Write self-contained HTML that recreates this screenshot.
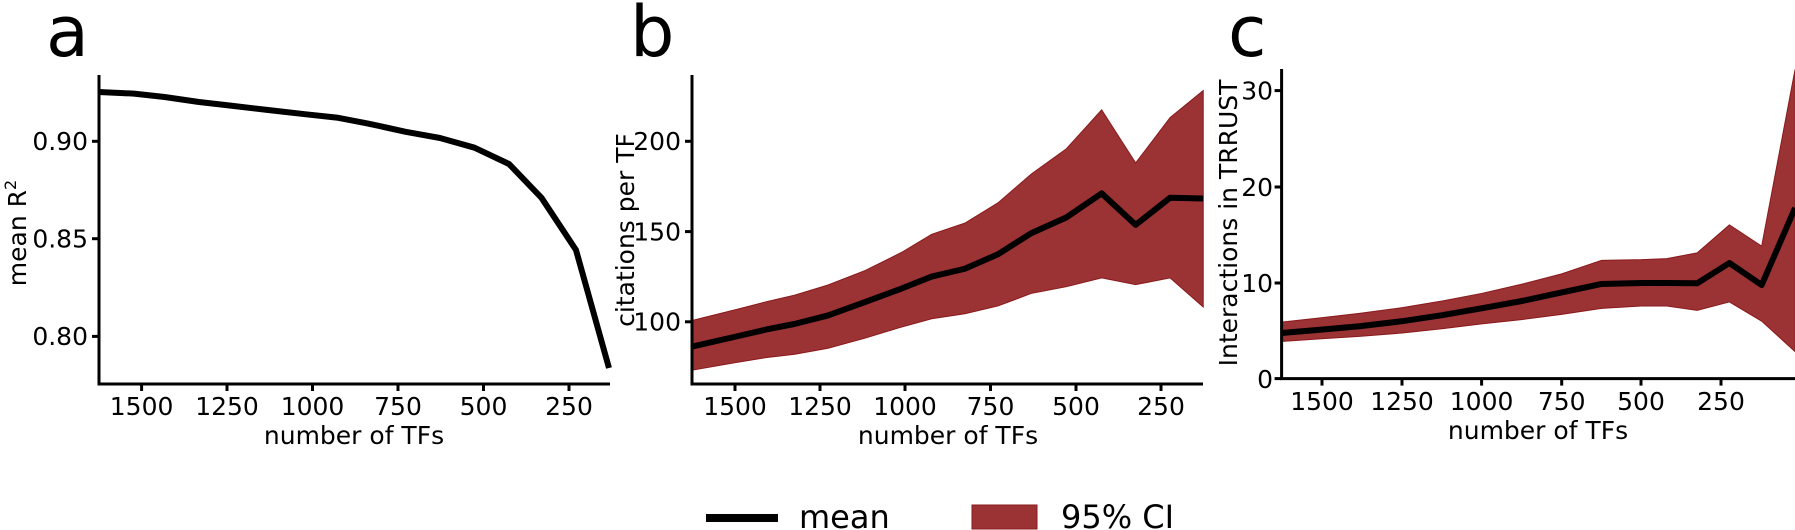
<!DOCTYPE html>
<html><head><meta charset="utf-8"><style>
html,body{margin:0;padding:0;background:#fff;}
svg{display:block;}
text{font-family:"DejaVu Sans","Liberation Sans",sans-serif;fill:#000;}
</style></head><body>
<svg width="1795" height="530" viewBox="0 0 1795 530" xmlns="http://www.w3.org/2000/svg">
<text x="46" y="56" font-size="70">a</text>
<text x="630" y="56" font-size="70">b</text>
<text x="1228" y="56" font-size="70">c</text>

<polyline fill="none" stroke="#000" stroke-width="6" stroke-linejoin="round" points="98.7,92 134,93.6 164.6,97 199,102 229.6,105.5 268,110 306,114.3 336.8,117.6 367.4,123.4 405.7,131.8 440,138 474.5,147.7 509,164 541.5,197.8 576,250 609,368"/>
<g stroke="#000" stroke-width="3" fill="none">
<line x1="99" y1="75" x2="99" y2="385.5"/>
<line x1="97.5" y1="384" x2="610" y2="384"/>
<line x1="141.6" y1="384" x2="141.6" y2="391"/><line x1="227" y1="384" x2="227" y2="391"/><line x1="312.5" y1="384" x2="312.5" y2="391"/><line x1="398" y1="384" x2="398" y2="391"/><line x1="483.5" y1="384" x2="483.5" y2="391"/><line x1="569" y1="384" x2="569" y2="391"/>
<line x1="92" y1="141.3" x2="99" y2="141.3"/><line x1="92" y1="238.7" x2="99" y2="238.7"/><line x1="92" y1="336.4" x2="99" y2="336.4"/>
</g>
<g font-size="25" text-anchor="middle">
<text x="141.6" y="415">1500</text><text x="227" y="415">1250</text><text x="312.5" y="415">1000</text><text x="398" y="415">750</text><text x="483.5" y="415">500</text><text x="569" y="415">250</text>
<text x="354" y="444">number of TFs</text>
</g>
<g font-size="25" text-anchor="end">
<text x="88" y="150">0.90</text><text x="88" y="247.5">0.85</text><text x="88" y="345">0.80</text>
</g>
<text transform="translate(26,233) rotate(-90)" font-size="25" text-anchor="middle">mean R<tspan dy="-10" font-size="16">2</tspan></text>

<g transform="translate(600,0) scale(0.41459,0.33807)">
<polygon fill="#9b3234" stroke="#8a1a1c" stroke-width="1" vector-effect="non-scaling-stroke" points="222,948 330,915 400,893 470,873 550,843 640,800 730,745 800,693 880,660 960,600 1040,515 1125,440 1210,325 1292,482 1375,348 1455,268 1455,908 1375,822 1292,842 1210,822 1125,848 1040,868 960,905 880,928 800,943 720,970 640,1000 550,1030 470,1048 400,1058 330,1072 222,1095"/>
<polyline fill="none" stroke="#000" stroke-width="6" stroke-linejoin="round" vector-effect="non-scaling-stroke" points="222,1025 330,995 400,975 470,958 550,933 640,893 720,857 800,818 880,795 960,752 1040,690 1125,643 1210,572 1292,665 1375,585 1455,587"/>
</g>
<g stroke="#000" stroke-width="3" fill="none">
<line x1="692" y1="75" x2="692" y2="385.5"/>
<line x1="690.5" y1="384" x2="1203" y2="384"/>
<line x1="735" y1="384" x2="735" y2="391"/><line x1="820" y1="384" x2="820" y2="391"/><line x1="905" y1="384" x2="905" y2="391"/><line x1="990.5" y1="384" x2="990.5" y2="391"/><line x1="1076" y1="384" x2="1076" y2="391"/><line x1="1161" y1="384" x2="1161" y2="391"/>
<line x1="685" y1="141.3" x2="692" y2="141.3"/><line x1="685" y1="231.6" x2="692" y2="231.6"/><line x1="685" y1="321.8" x2="692" y2="321.8"/>
</g>
<g font-size="25" text-anchor="middle">
<text x="735" y="415">1500</text><text x="820" y="415">1250</text><text x="905" y="415">1000</text><text x="990.5" y="415">750</text><text x="1076" y="415">500</text><text x="1161" y="415">250</text>
<text x="948" y="444">number of TFs</text>
</g>
<g font-size="25" text-anchor="end">
<text x="681" y="150">200</text><text x="681" y="240.5">150</text><text x="681" y="330.5">100</text>
</g>
<text transform="translate(634,230) rotate(-90)" font-size="25" text-anchor="middle">citations per TF</text>

<g transform="translate(1200,0) scale(0.37951,0.33807)">
<polygon fill="#9b3234" stroke="#8a1a1c" stroke-width="1" vector-effect="non-scaling-stroke" points="215,953 320,940 420,927 533,910 640,890 742,868 850,840 953,810 1058,770 1163,768 1230,765 1310,748 1395,665 1480,728 1568,205 1568,1040 1480,950 1395,893 1310,918 1230,905 1163,905 1058,912 953,930 850,945 742,958 640,972 533,985 420,995 320,1002 215,1010"/>
<polyline fill="none" stroke="#000" stroke-width="6" stroke-linejoin="round" vector-effect="non-scaling-stroke" points="215,985 320,975 420,965 533,950 640,932 742,912 850,890 953,865 1058,840 1163,837 1230,837 1310,838 1395,778 1480,843 1568,615"/>
</g>
<g stroke="#000" stroke-width="3" fill="none">
<line x1="1281.6" y1="69" x2="1281.6" y2="380"/>
<line x1="1280" y1="378.6" x2="1795" y2="378.6"/>
<line x1="1322" y1="378.6" x2="1322" y2="385.6"/><line x1="1402" y1="378.6" x2="1402" y2="385.6"/><line x1="1481.6" y1="378.6" x2="1481.6" y2="385.6"/><line x1="1561.7" y1="378.6" x2="1561.7" y2="385.6"/><line x1="1641" y1="378.6" x2="1641" y2="385.6"/><line x1="1721" y1="378.6" x2="1721" y2="385.6"/>
<line x1="1274.6" y1="90.6" x2="1281.6" y2="90.6"/><line x1="1274.6" y1="187" x2="1281.6" y2="187"/><line x1="1274.6" y1="283" x2="1281.6" y2="283"/><line x1="1274.6" y1="378.6" x2="1281.6" y2="378.6"/>
</g>
<g font-size="25" text-anchor="middle">
<text x="1322" y="410">1500</text><text x="1402" y="410">1250</text><text x="1481.6" y="410">1000</text><text x="1561.7" y="410">750</text><text x="1641" y="410">500</text><text x="1721" y="410">250</text>
<text x="1538" y="439">number of TFs</text>
</g>
<g font-size="25" text-anchor="end">
<text x="1273" y="99.5">30</text><text x="1273" y="196">20</text><text x="1273" y="292">10</text><text x="1273" y="388">0</text>
</g>
<text transform="translate(1237,223) rotate(-90)" font-size="25" text-anchor="middle">Interactions in TRRUST</text>

<rect x="706" y="514" width="72" height="8" fill="#000"/>
<text x="799" y="528" font-size="32">mean</text>
<rect x="972" y="505" width="65" height="24" fill="#9b3234" stroke="#8a1a1c" stroke-width="1"/>
<text x="1061" y="528" font-size="32">95% CI</text>
</svg>
</body></html>
